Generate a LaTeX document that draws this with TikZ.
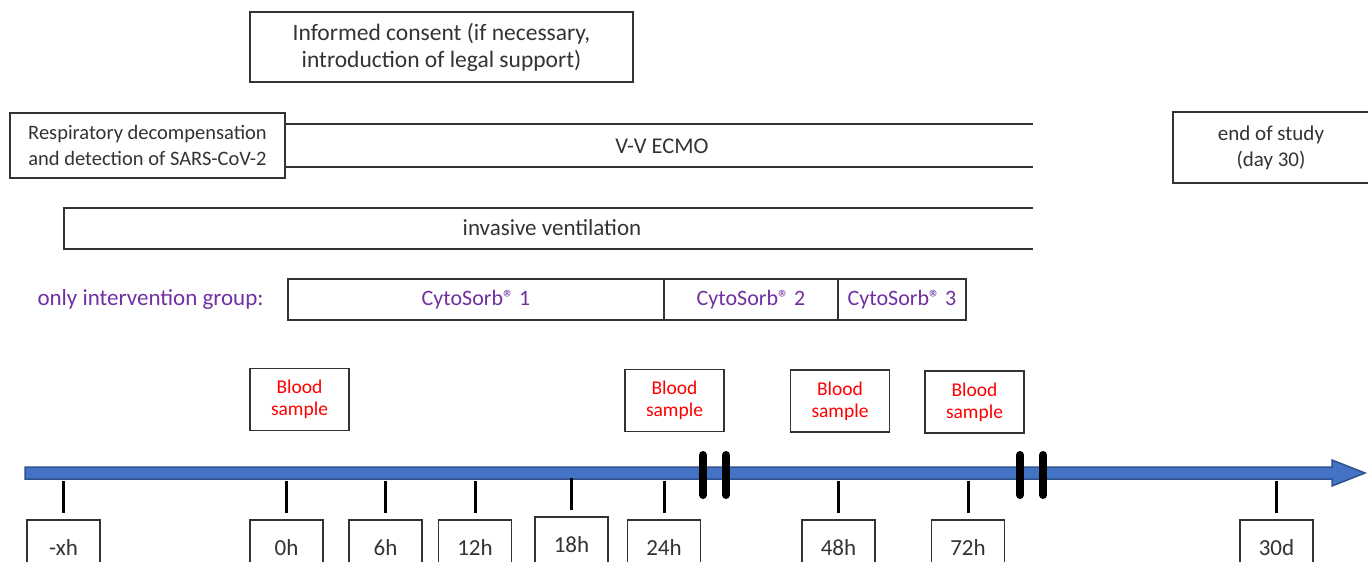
\documentclass[tikz,border=0pt]{standalone}
\usepackage{fontspec}
\setmainfont{Carlito}
\usetikzlibrary{positioning}
\definecolor{ivpurple}{RGB}{112,48,160}
\definecolor{axisblue}{RGB}{68,114,196}
\definecolor{axisdark}{RGB}{47,82,143}
\begin{document}
\begin{tikzpicture}[x=1pt,y=-1pt]
\tikzstyle{box}=[rectangle, draw=black!80, line width=1.5pt, align=center, inner sep=0pt, outer sep=0pt, text=black!80, font=\fontsize{22}{27}\selectfont]
\tikzstyle{cyto}=[box, line width=2pt, minimum height=41pt, text=ivpurple]
\tikzstyle{blood}=[box, minimum width=99pt, minimum height=62pt, text=red, font=\fontsize{19.5}{22}\selectfont]
\tikzstyle{tbox}=[box, minimum width=73pt, minimum height=56pt, anchor=north, font=\fontsize{23}{27}\selectfont]
\tikzstyle{label}=[text=black!80, font=\fontsize{22.5}{27}\selectfont]
\tikzstyle{bar}=[draw=black!80, line width=1.5pt]
\tikzstyle{tick}=[line width=3pt, black]
\tikzstyle{brk}=[line width=8pt, line cap=round, black]
  \useasboundingbox (0,0) rectangle (1368,562);
  \clip (0,0) rectangle (1368,562);
  \node[box, minimum width=383pt, minimum height=70pt, font=\fontsize{23.5}{27}\selectfont] (consent) at (441.5,47) {Informed consent (if necessary,\\introduction of legal support)};
  \node[box, minimum width=275pt, minimum height=65pt, font=\fontsize{20.5}{26}\selectfont] (resp) at (147.5,145.5) {Respiratory decompensation\\and detection of SARS-CoV-2};
  \node[box, minimum width=196pt, minimum height=71pt, font=\fontsize{21}{26}\selectfont] (end) at (1271,147.5) {end of study\\(day 30)};
  \draw[bar] (285,124) -- (1033,124) (285,167) -- (1033,167);
  \node[label] (ecmo) at (662,146) {V-V ECMO};
  \draw[bar] (1033,208) -- (64,208) -- (64,249) -- (1033,249);
  \node[label, font=\fontsize{23}{27}\selectfont] (vent) at (552,228) {invasive ventilation};
  \node[label, text=ivpurple, font=\fontsize{23}{27}\selectfont, anchor=west] (group) at (34,299) {only intervention group:};
  \node[cyto, minimum width=376pt] (cyto1) at (476,299.5) {CytoSorb® 1};
  \node[cyto, minimum width=174pt, right=0pt of cyto1] (cyto2) {CytoSorb® 2};
  \node[cyto, minimum width=128pt, right=0pt of cyto2] (cyto3) {CytoSorb® 3};
  \foreach \name/\x/\y in {bs0/299.5/399.5, bs24/674.5/400.5, bs48/840/401, bs72/974.5/402}
    \node[blood] (\name) at (\x,\y) {Blood\\sample};
  \fill[axisblue, draw=axisdark, line width=1.5pt] (25,467) -- (1332,467) -- (1332,460) -- (1365,473) -- (1332,486) -- (1332,479) -- (25,479) -- cycle;
  \foreach \x in {703,726,1020,1043}
    \draw[brk] (\x,455) -- (\x,495);
  \foreach \name/\x/\y/\lbl in {mxh/63.5/520/-xh, h0/286.5/520/0h, h6/385.5/520/6h, h12/475/520/12h, h18/571.5/517/18h, h24/664/520/24h, h48/838.5/520/48h, h72/968/520/72h, d30/1276.5/520/30d}
  {
    \node[tbox] (\name) at (\x,\y) {\lbl};
    \draw[tick] ([yshift=7pt]\name.north) -- ++(0,-32);
  }
\end{tikzpicture}
\end{document}
